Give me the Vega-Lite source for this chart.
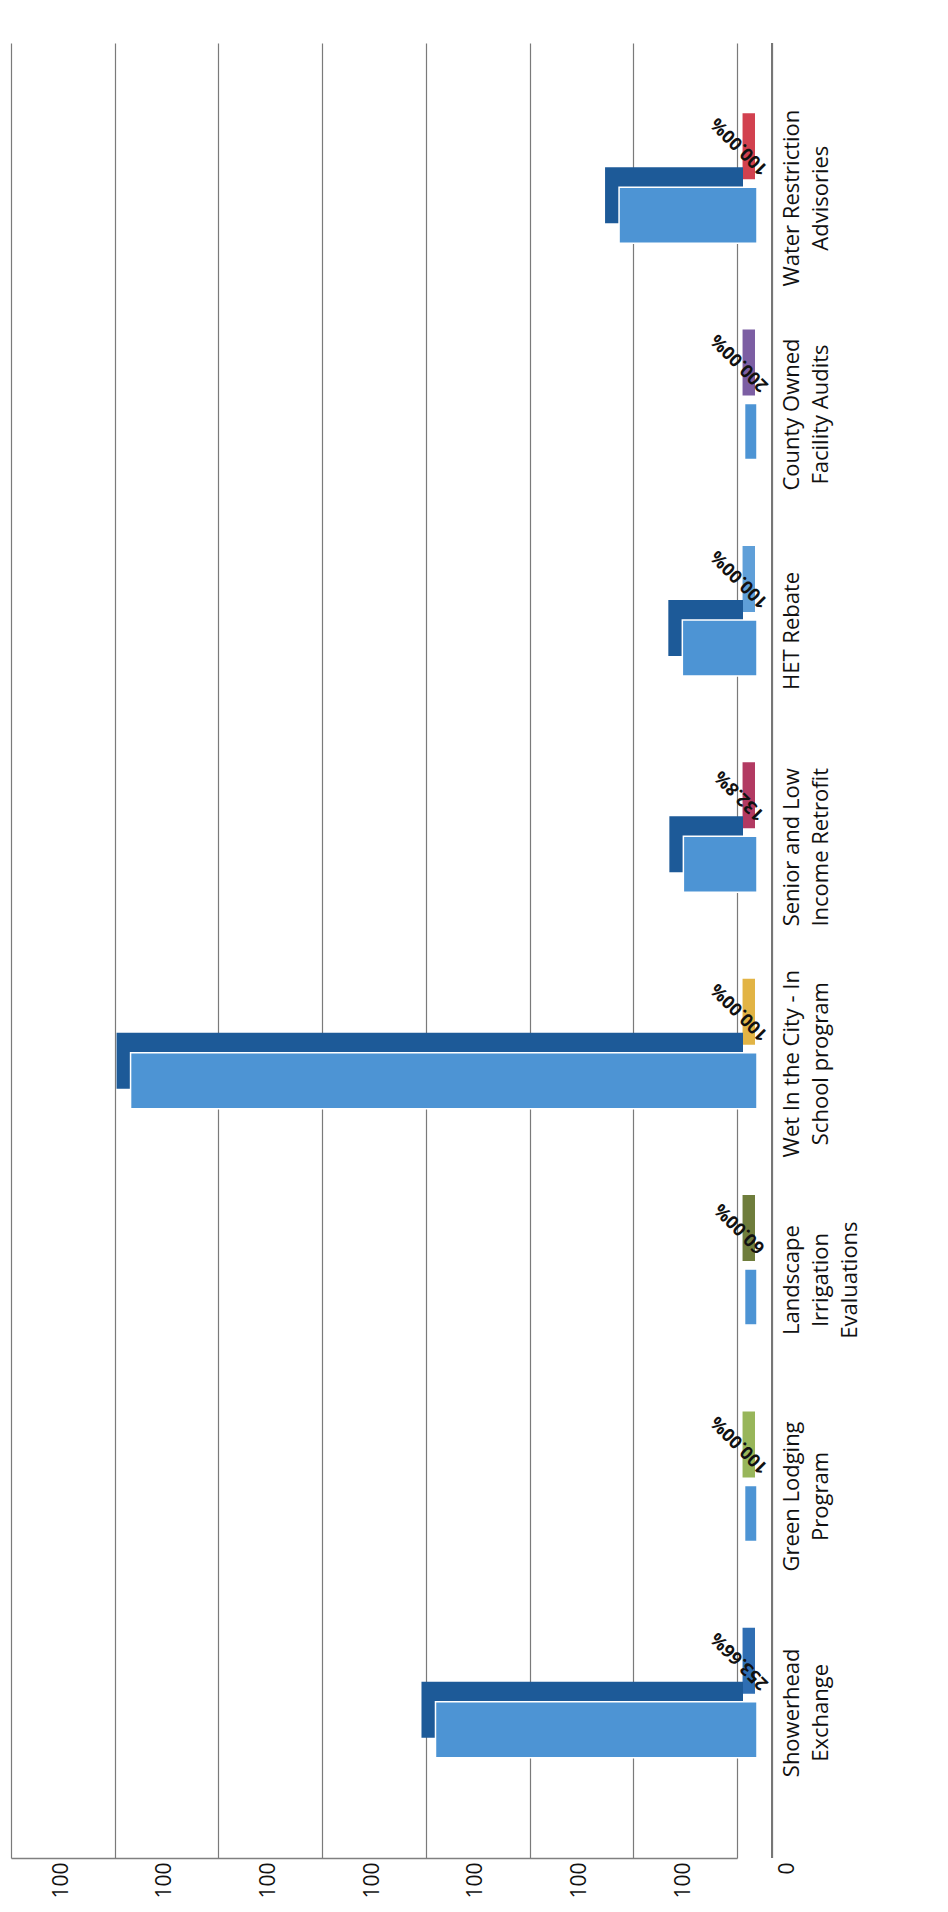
{
  "$schema": "https://vega.github.io/schema/vega-lite/v6.json",
  "width": 726,
  "height": 1815,
  "autosize": {"type": "none"},
  "padding": {"left": 11, "top": 43, "right": 211, "bottom": 54},
  "background": "white",
  "config": {"view": {"stroke": null}, "font": "Open Sans"},
  "data": {
    "values": [
      {"program": "Showerhead|Exchange", "value": 3.10, "secondary": 0.12, "pctLabel": "253.66%"},
      {"program": "Green Lodging|Program", "value": 0.12, "secondary": 0.12, "pctLabel": "100.00%"},
      {"program": "Landscape|Irrigation|Evaluations", "value": 0.12, "secondary": 0.12, "pctLabel": "60.00%"},
      {"program": "Wet In the City - In|School program", "value": 6.04, "secondary": 0.12, "pctLabel": "100.00%"},
      {"program": "Senior and Low|Income Retrofit", "value": 0.71, "secondary": 0.12, "pctLabel": "132.8%"},
      {"program": "HET Rebate", "value": 0.72, "secondary": 0.12, "pctLabel": "100.00%"},
      {"program": "County Owned|Facility Audits", "value": 0.12, "secondary": 0.12, "pctLabel": "200.00%"},
      {"program": "Water Restriction|Advisories", "value": 1.33, "secondary": 0.12, "pctLabel": "100.00%"}
    ]
  },
  "layer": [
    {
      "mark": {"type": "bar", "size": 66, "yOffset": -52, "xOffset": 18},
      "encoding": {
        "y": {
          "field": "program",
          "type": "nominal",
          "sort": ["Water Restriction|Advisories", "County Owned|Facility Audits", "HET Rebate", "Senior and Low|Income Retrofit", "Wet In the City - In|School program", "Landscape|Irrigation|Evaluations", "Green Lodging|Program", "Showerhead|Exchange"],
          "scale": {"paddingInner": 0.5, "paddingOuter": 0.444, "align": 0.526},
          "axis": {
            "orient": "right",
            "title": null,
            "domain": false,
            "ticks": false,
            "labelExpr": "split(datum.label, '|')",
            "labelAngle": 270,
            "labelAlign": "center",
            "labelBaseline": "top",
            "labelPadding": 44,
            "labelFontSize": 22,
            "labelLineHeight": 29,
            "labelColor": "#111",
            "labelLimit": 400
          }
        },
        "x": {
          "field": "secondary",
          "type": "quantitative",
          "scale": {"domain": [0, 7], "reverse": true, "nice": false, "zero": true},
          "axis": {
            "orient": "bottom",
            "title": null,
            "values": [0, 1, 2, 3, 4, 5, 6, 7],
            "labelExpr": "datum.value == 0 ? '0' : '100'",
            "labelAngle": 270,
            "labelAlign": "right",
            "labelBaseline": "middle",
            "labelOffset": 50,
            "labelPadding": 4,
            "labelFontSize": 21,
            "labelColor": "#111",
            "ticks": false,
            "grid": true,
            "gridColor": "#7a7a7a",
            "gridWidth": 1.2,
            "domain": true,
            "domainColor": "#808080",
            "domainWidth": 1.5
          }
        },
        "color": {
          "field": "program",
          "type": "nominal",
          "legend": null,
          "scale": {
            "domain": ["Showerhead|Exchange", "Green Lodging|Program", "Landscape|Irrigation|Evaluations", "Wet In the City - In|School program", "Senior and Low|Income Retrofit", "HET Rebate", "County Owned|Facility Audits", "Water Restriction|Advisories"],
            "range": ["#2f6eb3", "#98b65a", "#6f7d3c", "#e2b445", "#b23a62", "#5f9fd8", "#7c5ea3", "#d2414f"]
          }
        }
      }
    },
    {
      "mark": {"type": "rule", "color": "#777", "strokeWidth": 1.5},
      "encoding": {"x": {"datum": -0.34, "type": "quantitative"}}
    },
    {
      "transform": [{"filter": "datum.value > 0.5"}],
      "mark": {"type": "bar", "size": 56, "yOffset": -3, "xOffset": 6, "color": "#1d5a98"},
      "encoding": {
        "y": {"field": "program", "type": "nominal", "sort": ["Water Restriction|Advisories", "County Owned|Facility Audits", "HET Rebate", "Senior and Low|Income Retrofit", "Wet In the City - In|School program", "Landscape|Irrigation|Evaluations", "Green Lodging|Program", "Showerhead|Exchange"]},
        "x": {"field": "value", "type": "quantitative"}
      }
    },
    {
      "mark": {"type": "bar", "size": 56, "yOffset": 17, "xOffset": 20, "color": "#4d94d4", "stroke": "white", "strokeWidth": 1.5},
      "encoding": {
        "y": {"field": "program", "type": "nominal", "sort": ["Water Restriction|Advisories", "County Owned|Facility Audits", "HET Rebate", "Senior and Low|Income Retrofit", "Wet In the City - In|School program", "Landscape|Irrigation|Evaluations", "Green Lodging|Program", "Showerhead|Exchange"]},
        "x": {"field": "value", "type": "quantitative"}
      }
    },
    {
      "mark": {"type": "text", "angle": 225, "xOffset": 3, "yOffset": -52, "fontSize": 18, "fontWeight": "bold", "color": "#111", "align": "center", "baseline": "middle"},
      "encoding": {
        "y": {"field": "program", "type": "nominal", "sort": ["Water Restriction|Advisories", "County Owned|Facility Audits", "HET Rebate", "Senior and Low|Income Retrofit", "Wet In the City - In|School program", "Landscape|Irrigation|Evaluations", "Green Lodging|Program", "Showerhead|Exchange"]},
        "x": {"datum": 0, "type": "quantitative"},
        "text": {"field": "pctLabel"}
      }
    }
  ]
}
